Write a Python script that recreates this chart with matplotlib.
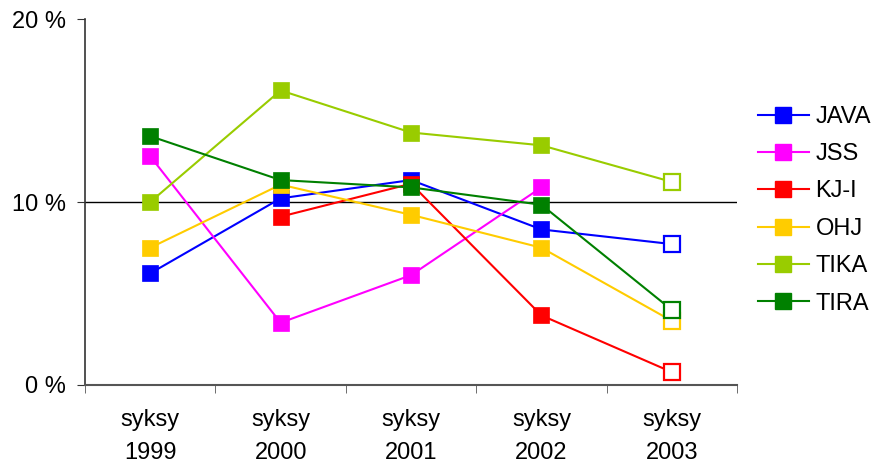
import numpy as np
import matplotlib
matplotlib.use('Agg')
import matplotlib.pyplot as plt
from matplotlib.lines import Line2D

plt.rcParams['font.family'] = ['Liberation Sans', 'DejaVu Sans']

# Share of students per programme, autumn terms 1999-2003 (percent)
terms = ['syksy\n1999', 'syksy\n2000', 'syksy\n2001', 'syksy\n2002', 'syksy\n2003']
java = [6.1, 10.2, 11.2, 8.5, 7.7]
jss = [12.5, 3.4, 6.0, 10.8, np.nan]
kji = [np.nan, 9.2, 11.0, 3.8, 0.7]
ohj = [7.5, 10.95, 9.3, 7.5, 3.5]
tika = [10.0, 16.1, 13.8, 13.1, 11.1]
tira = [13.6, 11.2, 10.8, 9.85, 4.1]

names = ['JAVA', 'JSS', 'KJ-I', 'OHJ', 'TIKA', 'TIRA']
colors = ['#0000FF', '#FF00FF', '#FF0000', '#FFCC00', '#99CC00', '#008000']
series = [java, jss, kji, ohj, tika, tira]

fig = plt.figure(figsize=(8.74, 4.66), dpi=100)
ax = fig.add_axes([0.0973, 0.174, 0.746, 0.785])

x = np.arange(len(terms))
ax.axhline(10, color='black', lw=1, zorder=1)

handles = []
for name, col, vals in zip(names, colors, series):
    v = np.array(vals, dtype=float)
    ax.plot(x, v, color=col, lw=1.5, zorder=2)
    # earlier terms: filled squares, last term: hollow square
    ax.plot(x[:-1], v[:-1], ls='none', marker='s', ms=12,
            mfc=col, mec=col, mew=0.5, zorder=3)
    ax.plot(x[-1:], v[-1:], ls='none', marker='s', ms=11.5,
            mfc='white', mec=col, mew=1.6, zorder=3)
    handles.append(Line2D([], [], color=col, lw=1.5, marker='s', ms=11,
                          mfc=col, mec=col))

ax.set_xlim(-0.5, len(terms) - 0.5)
ax.set_ylim(0, 20)
ax.set_yticks([0, 10, 20])
ax.set_yticklabels(['0 %', '10 %', '20 %'])
ax.set_xticks(x)
ax.set_xticklabels(terms, linespacing=1.65)
ax.set_xticks(np.arange(-0.5, len(terms)), minor=True)

ax.tick_params(axis='x', which='major', length=0, pad=17, labelsize=17)
ax.tick_params(axis='x', which='minor', length=6, direction='out', color='#555555')
ax.tick_params(axis='y', length=6, direction='out', labelsize=17, pad=8, color='#333333')

for side in ['top', 'right']:
    ax.spines[side].set_visible(False)
ax.spines['left'].set_color('#333333')
ax.spines['bottom'].set_color('#555555')
ax.spines['left'].set_linewidth(1.2)
ax.spines['bottom'].set_linewidth(1.5)

fig.legend(handles, names, loc='center left', bbox_to_anchor=(0.867, 0.549),
           frameon=False, fontsize=17, handlelength=2.15, labelspacing=0.65,
           handletextpad=0.3, borderpad=0, borderaxespad=0)

fig.savefig('out.png', dpi=100)
